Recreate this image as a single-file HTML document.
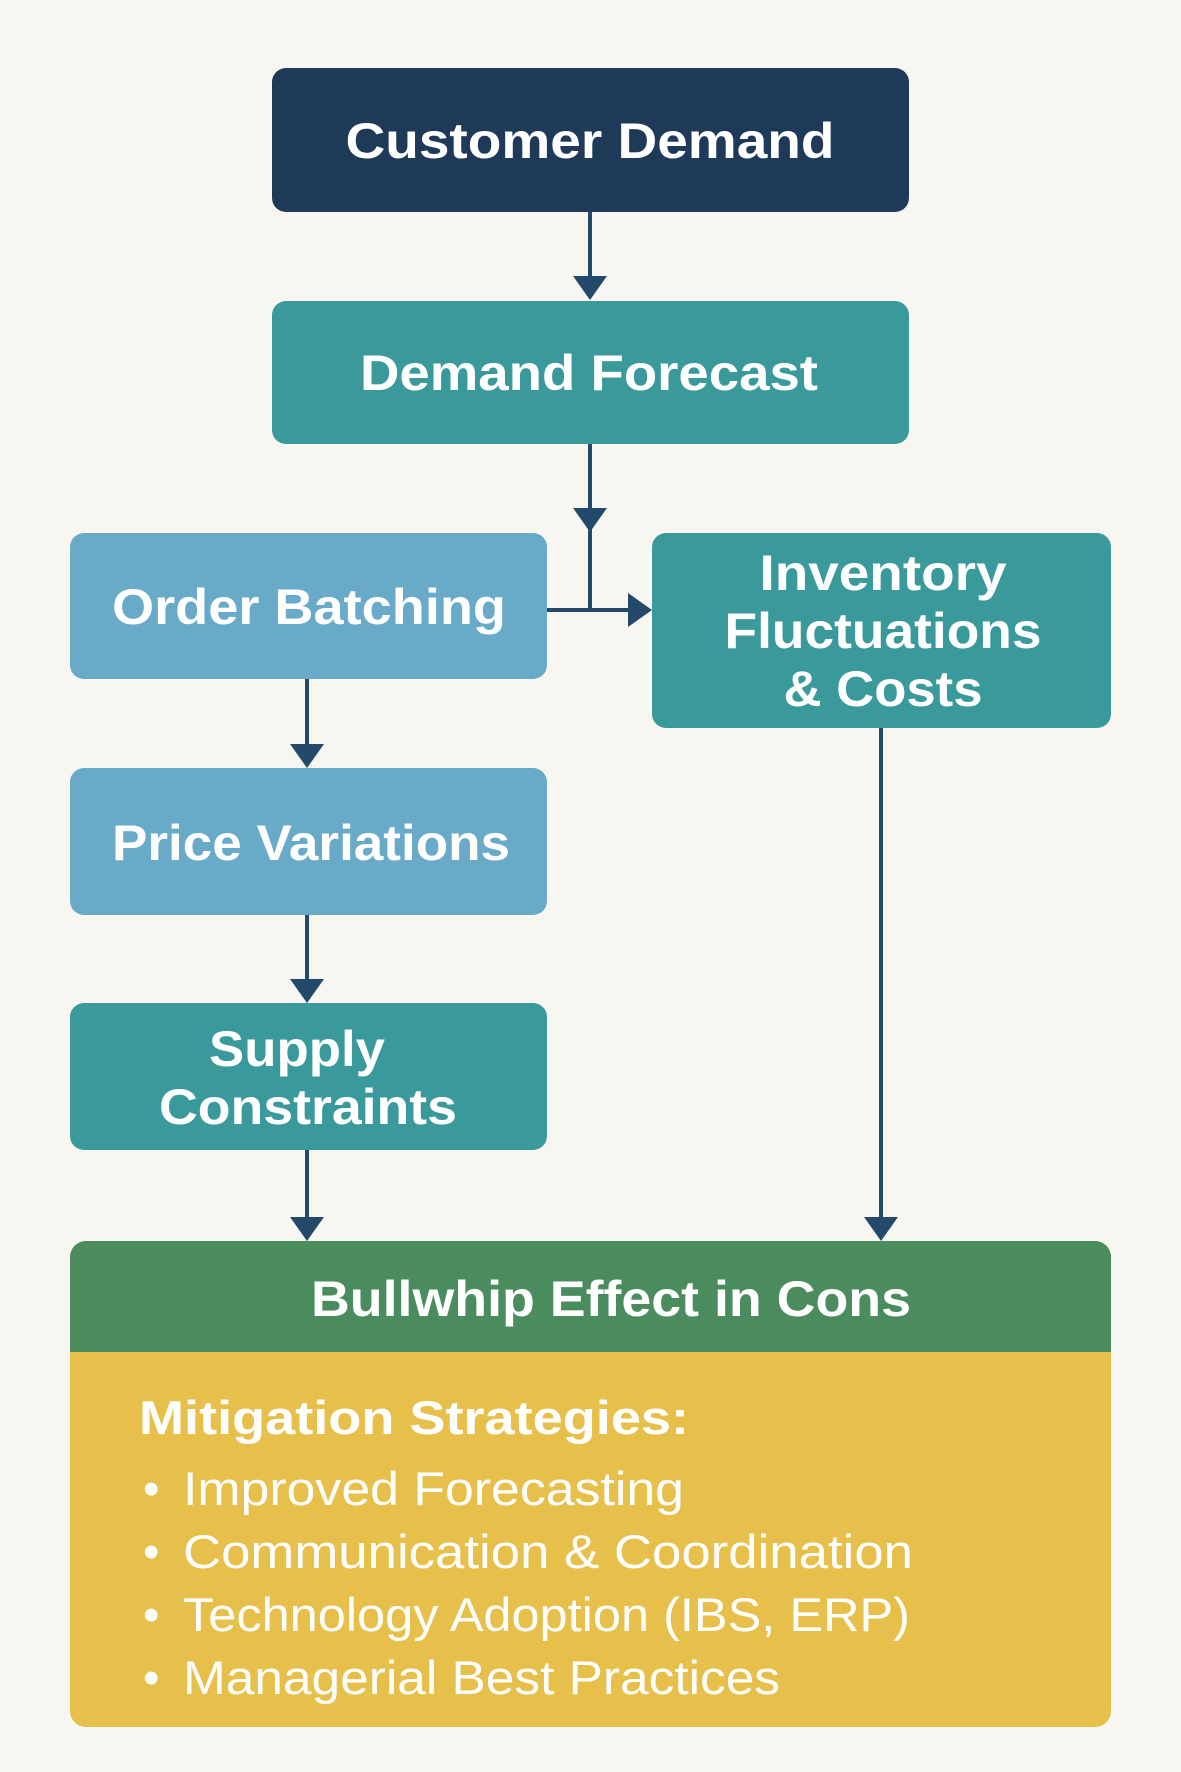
<!DOCTYPE html>
<html><head><meta charset="utf-8"><style>
html,body{margin:0;padding:0;background:#f7f6f1;}
svg{display:block}
text{font-family:"Liberation Sans",sans-serif;}
</style></head><body>
<svg width="1181" height="1772" viewBox="0 0 1181 1772" xmlns="http://www.w3.org/2000/svg">
<rect width="1181" height="1772" fill="#f7f6f1"/>
<g stroke="#234a6a" stroke-width="4" fill="none">
<line x1="590" y1="212" x2="590" y2="290"/>
<line x1="590" y1="444" x2="590" y2="610"/>
<line x1="547" y1="610" x2="640" y2="610"/>
<line x1="307" y1="679" x2="307" y2="758"/>
<line x1="307" y1="915" x2="307" y2="993"/>
<line x1="307" y1="1150" x2="307" y2="1230"/>
<line x1="881" y1="728" x2="881" y2="1230"/>
</g>
<g fill="#234a6a">
<polygon points="573,276 607,276 590,300"/>
<polygon points="573,508 607,508 590,532"/>
<polygon points="628,593 652,610 628,627"/>
<polygon points="290,744 324,744 307,768"/>
<polygon points="290,979 324,979 307,1003"/>
<polygon points="290,1217 324,1217 307,1241"/>
<polygon points="864,1217 898,1217 881,1241"/>
</g>
<rect x="272" y="68" width="637" height="144" rx="14" fill="#1e3a58"/>
<rect x="272" y="301" width="637" height="143" rx="14" fill="#3a9a9b"/>
<rect x="70" y="533" width="477" height="146" rx="14" fill="#68aac8"/>
<rect x="652" y="533" width="459" height="195" rx="14" fill="#3a9a9b"/>
<rect x="70" y="768" width="477" height="147" rx="14" fill="#68aac8"/>
<rect x="70" y="1003" width="477" height="147" rx="14" fill="#3a9a9b"/>
<rect x="70" y="1241" width="1041" height="486" rx="16" fill="#e6c04b"/>
<path d="M70,1352 V1257 a16,16 0 0 1 16,-16 H1095 a16,16 0 0 1 16,16 V1352 Z" fill="#4a8c5d"/>
<g fill="#fff" font-weight="bold" font-size="50" text-anchor="middle" lengthAdjust="spacingAndGlyphs">
<text x="590" y="158" textLength="489" lengthAdjust="spacingAndGlyphs">Customer Demand</text>
<text x="589" y="390" textLength="458" lengthAdjust="spacingAndGlyphs">Demand Forecast</text>
<text x="309" y="624" textLength="394" lengthAdjust="spacingAndGlyphs">Order Batching</text>
<text x="883" y="590" textLength="247" lengthAdjust="spacingAndGlyphs">Inventory</text>
<text x="883" y="648" textLength="317" lengthAdjust="spacingAndGlyphs">Fluctuations</text>
<text x="883" y="706" textLength="199" lengthAdjust="spacingAndGlyphs">&amp; Costs</text>
<text x="311" y="860" textLength="398" lengthAdjust="spacingAndGlyphs">Price Variations</text>
<text x="297" y="1066" textLength="176" lengthAdjust="spacingAndGlyphs">Supply</text>
<text x="308" y="1124" textLength="298" lengthAdjust="spacingAndGlyphs">Constraints</text>
<text x="611" y="1316" textLength="600" lengthAdjust="spacingAndGlyphs">Bullwhip Effect in Cons</text>
</g>
<g fill="#fff" font-size="47">
<text x="139" y="1434" font-weight="bold" textLength="550" lengthAdjust="spacingAndGlyphs">Mitigation Strategies:</text>
<text x="143" y="1505">•</text><text x="183" y="1505" textLength="501" lengthAdjust="spacingAndGlyphs">Improved Forecasting</text>
<text x="143" y="1568">•</text><text x="183" y="1568" textLength="730" lengthAdjust="spacingAndGlyphs">Communication &amp; Coordination</text>
<text x="143" y="1631">•</text><text x="183" y="1631" textLength="727" lengthAdjust="spacingAndGlyphs">Technology Adoption (IBS, ERP)</text>
<text x="143" y="1694">•</text><text x="183" y="1694" textLength="597" lengthAdjust="spacingAndGlyphs">Managerial Best Practices</text>
</g>
</svg>
</body></html>
